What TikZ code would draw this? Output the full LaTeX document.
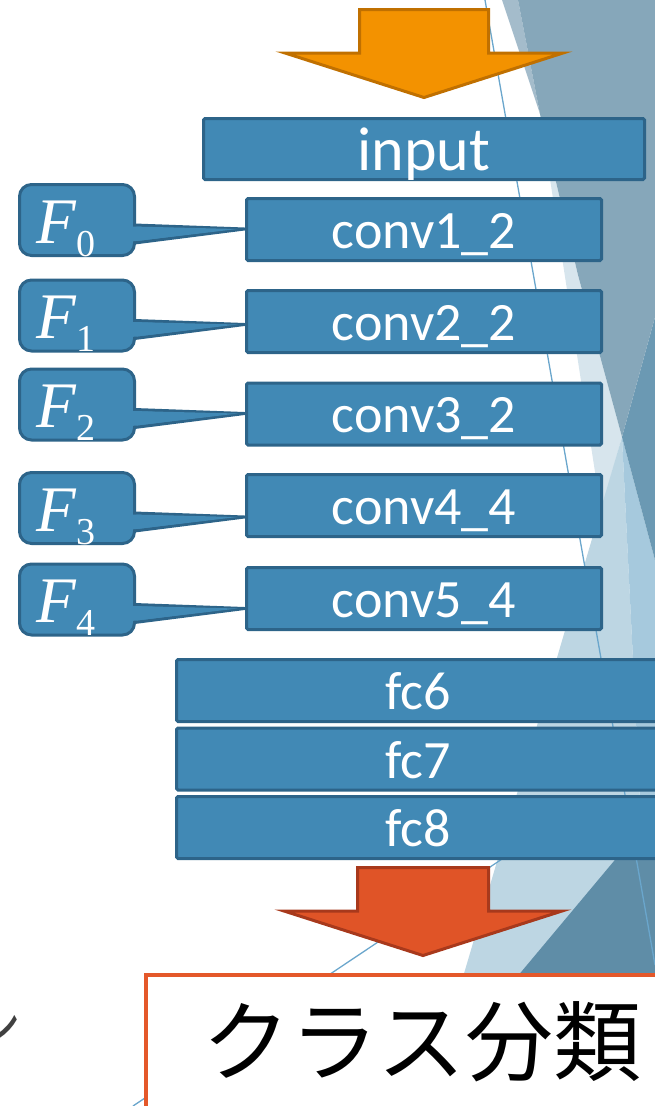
\documentclass[tikz,border=0pt]{standalone}
\usepackage{fontspec}
\setmainfont{Carlito}
\newfontfamily\cjk{Noto Sans CJK JP}
\newfontfamily\serifF{Liberation Serif}
\usetikzlibrary{calc}

\definecolor{boxfill}{HTML}{4189B5}
\definecolor{boxline}{HTML}{2D6489}
\definecolor{orfill}{HTML}{F39200}
\definecolor{orline}{HTML}{C07000}
\definecolor{rdfill}{HTML}{E05427}
\definecolor{rdline}{HTML}{A8391C}
\definecolor{rdbox}{HTML}{E4582A}
\definecolor{bggray}{HTML}{86A7BA}
\definecolor{bgstrip}{HTML}{A4BCCB}
\definecolor{bgpale}{HTML}{D7E5ED}
\definecolor{bglight}{HTML}{BDD6E3}
\definecolor{bgsky}{HTML}{A6C9DD}
\definecolor{bgmid}{HTML}{6B99B3}
\definecolor{bgdark}{HTML}{5F8DA7}
\definecolor{thinline}{HTML}{6AA6CC}
\definecolor{fraggray}{HTML}{404040}

% feature map label F_i
\newcommand\featF[1]{{\serifF\fontsize{65}{70}\selectfont\itshape F}\kern1pt\raisebox{-13pt}{\serifF\fontsize{38}{42}\selectfont #1}}

\tikzset{
  layer/.style={draw=boxline, fill=boxfill, line width=3pt, rounded corners=1.5pt,
    text=white, inner sep=0pt, outer sep=0pt,
    font=\fontsize{54}{60}\selectfont, text height=37pt, text depth=0pt},
  convbox/.style={layer, minimum width=355pt, minimum height=62pt},
  fcbox/.style={layer, minimum width=483pt, minimum height=62pt, text height=38pt},
  inputbox/.style={layer, minimum width=441pt, minimum height=61pt,
    font=\fontsize{62}{68}\selectfont, text height=42pt},
  calloutbox/.style={draw=boxline, fill=boxfill, line width=3pt, rounded corners=12pt,
    minimum width=115pt, minimum height=71pt, inner sep=0pt, outer sep=0pt},
  flabel/.style={text=white, inner sep=0pt, anchor=base west},
  pointer/.style={draw=boxline, fill=boxfill, line width=3pt, line join=round},
  blockarrow/.style={line width=3pt, line join=miter},
  classbox/.style={draw=rdbox, fill=white, line width=3.5pt, inner sep=0pt,
    minimum width=552.5pt, minimum height=134.5pt,
    font=\cjk\fontsize{88}{96}\selectfont},
  thin/.style={draw=thinline, line width=1.3pt}
}

\begin{document}
\begin{tikzpicture}[x=1pt, y=-1pt]
\useasboundingbox (0,0) rectangle (655,1106);
\clip (0,0) rectangle (655,1106);

% background facets on the right
\fill[bgstrip] (502,0) -- (518,0) -- (540,114) -- cycle;
\fill[bgpale] (540,114) -- (601,511) -- (622,437) -- (578,275) -- cycle;
\fill[bglight] (622,437) -- (655,1106) -- (425,1106) -- cycle;
\fill[bgsky] (622,437) -- (655,560) -- (655,1106) -- cycle;
\fill[bgmid] (655,317) -- (622,437) -- (655,560) -- cycle;
\fill[bggray] (518,0) -- (655,0) -- (655,317) -- (622,437) -- (578,275) -- (540,114) -- cycle;
\fill[bgdark] (655,812) -- (409,1106) -- (655,1106) -- cycle;
\coordinate (la) at (485,0);
\coordinate (lb) at (655,965);
\coordinate (lc) at (133,1106);
\coordinate (ld) at (505,857);
\draw[thin] (la) -- (lb);
\draw[thin] (lc) -- (ld);

% partial title glyph at the left edge
\node[anchor=base west, text=fraggray, inner sep=0pt, font=\cjk\fontsize{54}{60}\selectfont] (frag) at (-33,1046) {ン};

% network layers
\node[inputbox] (inp) at (424,149) {input};
\node[convbox] (c1) at (424,229.5) {conv1\_2};
\node[convbox] (c2) at (424,321.5) {conv2\_2};
\node[convbox] (c3) at (424,414) {conv3\_2};
\node[convbox] (c4) at (424,505.5) {conv4\_4};
\node[convbox] (c5) at (424,598.5) {conv5\_4};
\node[fcbox] (fc6) at (418,690.5) {fc6};
\node[fcbox] (fc7) at (418,759) {fc7};
\node[fcbox] (fc8) at (418,827.5) {fc8};

% feature callouts
\foreach \i/\cy/\cn in {0/220/c1, 1/315.5/c2, 2/404.5/c3, 3/508/c4, 4/599.5/c5} {
  \node[calloutbox] (fb\i) at (77,\cy) {};
  \node[flabel] (f\i) at ($(fb\i.west)+(16.5,23)$) {\featF{\i}};
  \coordinate (ft\i) at ($(fb\i.east)+(0,9)$);
  \draw[pointer] ($(fb\i.east)+(0,5)$) -- ($(ft\i -| \cn.west)+(-2,0)$) -- ($(fb\i.east)+(0,23)$) -- cycle;
  \fill[boxfill] ($(fb\i.east)+(-3,6.5)$) -- ($(ft\i -| \cn.west)+(-9,0)$) -- ($(fb\i.east)+(-3,21.5)$) -- cycle;
}

% input arrow
\filldraw[blockarrow, fill=orfill, draw=orline]
  (359.5,9.5) -- (488.5,9.5) -- (488.5,53) -- (563,53) -- (424,97.5) -- (285,53) -- (359.5,53) -- cycle;

% output arrow and result
\node[classbox] (cls) at (422,1042) {クラス分類};
\filldraw[blockarrow, fill=rdfill, draw=rdline]
  (357.5,867.5) -- (488.5,867.5) -- (488.5,911) -- (562,911) -- (423,955.5) -- (284,911) -- (357.5,911) -- cycle;
\end{tikzpicture}
\end{document}
